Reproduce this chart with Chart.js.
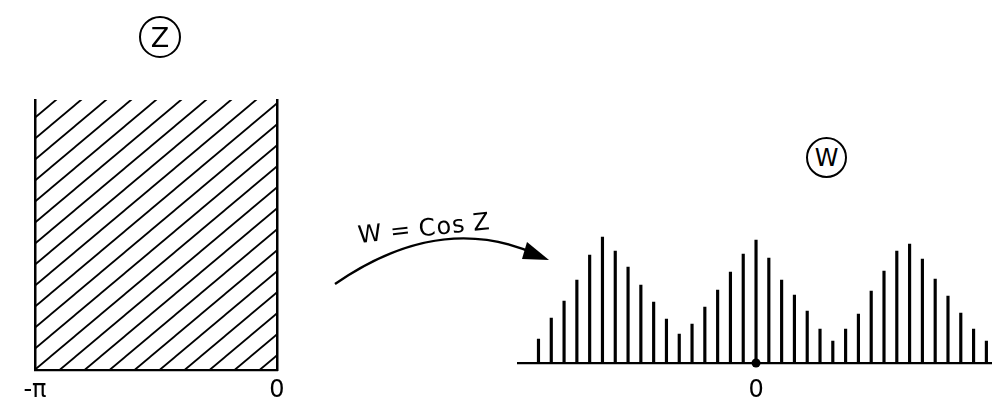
<!DOCTYPE html>
<html>
<head>
<meta charset="utf-8">
<script src="https://cdn.jsdelivr.net/npm/chart.js@4.4.1/dist/chart.umd.min.js"></script>
<style>
  html, body { margin: 0; padding: 0; background: #fff; }
  body { width: 996px; height: 406px; position: relative; overflow: hidden; font-family: "DejaVu Sans", sans-serif; }
  .wrap { position: absolute; }
  .circ { position: absolute; box-sizing: border-box; border: 2.5px solid #000; border-radius: 50%;
          display: flex; align-items: center; justify-content: center; color: #000; line-height: 1; }
  #mapText { position: absolute; left: 358px; top: 223px; font-size: 24px; letter-spacing: 1px; word-spacing: -1px;
             transform: rotate(-6deg); transform-origin: left center; white-space: nowrap; color: #000; line-height: 24px; }
  svg { position: absolute; left: 0; top: 0; }
</style>
</head>
<body>
<script>
// ---- data ----
// z-plane: the strip -π < Re z < 0 (hatched region)
const zRegionX = [-Math.PI, 0];
const zTickValues = [-Math.PI, 0];
const zTickLabels = ["-π", "0"];

// w-plane: vertical spikes along the real axis (index relative to w = 0)
const wIndex = [-17,-16,-15,-14,-13,-12,-11,-10,-9,-8,-7,-6,-5,-4,-3,-2,-1,0,
                 1,2,3,4,5,6,7,8,9,10,11,12,13,14,15,16,17,18];
const wHeights = [24,45,62,83,108,126,112,96,78,61,44,29,39,56,73,91,109,123,
                  105,83,68,52,34,22,34,49,72,92,112,119,104,84,67,50,34,22];
const wTickValues = [0];
const wTickLabels = ["0"];
const wOrigin = [{x: 0, y: 0}];
</script>

<div class="wrap" style="left:0;top:0;width:330px;height:406px"><canvas id="zc"></canvas></div>
<div class="wrap" style="left:500px;top:200px;width:496px;height:206px"><canvas id="wc"></canvas></div>

<div class="circ" style="left:139px;top:16px;width:42px;height:42px;font-size:27px">Z</div>
<div class="circ" style="left:806px;top:137px;width:41px;height:41px;font-size:24px">W</div>

<svg width="996" height="406">
  <path d="M335,284 Q442,210 540,256" fill="none" stroke="#000" stroke-width="2.4"/>
  <polygon points="549,260 527,242 522,259" fill="#000"/>
</svg>
<div id="mapText">W = Cos Z</div>

<script>
function hatchPattern(ctx) {
  const c = document.createElement('canvas');
  c.width = 25; c.height = 21;
  const g = c.getContext('2d');
  g.strokeStyle = '#000';
  g.lineWidth = 1.8;
  for (const dx of [-25, 0, 25]) {
    g.beginPath();
    g.moveTo(-25 + dx, 42);
    g.lineTo(50 + dx, -21);
    g.stroke();
  }
  return ctx.createPattern(c, 'repeat');
}

const labelFont = { size: 24, family: 'DejaVu Sans' };

const zctx = document.getElementById('zc').getContext('2d');
new Chart(zctx, {
  type: 'line',
  data: {
    datasets: [{
      data: zRegionX.map(x => ({x, y: 1})),
      fill: 'origin',
      backgroundColor: hatchPattern(zctx),
      borderWidth: 0,
      pointRadius: 0
    }]
  },
  options: {
    responsive: true, maintainAspectRatio: false, animation: false,
    layout: { padding: { left: 35, right: 53, top: 100, bottom: 0 } },
    plugins: { legend: { display: false }, tooltip: { enabled: false } },
    scales: {
      x: {
        type: 'linear', min: -Math.PI, max: 0,
        grid: { display: false, drawTicks: false },
        border: { display: true, color: '#000', width: 2.2 },
        afterBuildTicks: s => { s.ticks = zTickValues.map(v => ({value: v})); },
        afterFit: s => { s.height = 36; },
        ticks: {
          padding: 6, color: '#000', font: labelFont,
          maxRotation: 0, autoSkip: false,
          callback: (v) => zTickLabels[zTickValues.indexOf(v)]
        }
      },
      y: {
        min: 0, max: 1, position: 'left',
        grid: { display: false, drawTicks: false },
        ticks: { display: false },
        border: { display: true, color: '#000', width: 2.5 },
        afterFit: s => { s.width = 0; }
      },
      y2: {
        min: 0, max: 1, position: 'right',
        grid: { display: false, drawTicks: false },
        ticks: { display: false },
        border: { display: true, color: '#000', width: 2.5 },
        afterFit: s => { s.width = 0; }
      }
    }
  }
});

new Chart(document.getElementById('wc'), {
  type: 'bar',
  data: {
    datasets: [
      {
        type: 'scatter',
        data: wOrigin,
        pointRadius: 4.5,
        backgroundColor: '#000',
        borderWidth: 0,
        clip: false,
        order: 0
      },
      {
        data: wIndex.map((x, i) => ({x, y: wHeights[i]})),
        backgroundColor: '#000',
        barThickness: 2.5,
        order: 1
      }
    ]
  },
  options: {
    responsive: true, maintainAspectRatio: false, animation: false,
    layout: { padding: { left: 18, right: 0, top: 30, bottom: 0 } },
    plugins: { legend: { display: false }, tooltip: { enabled: false } },
    scales: {
      x: {
        type: 'linear', min: -18.6, max: 18.4, offset: false,
        grid: { display: false, drawTicks: false },
        border: { display: true, color: '#000', width: 2.2 },
        afterBuildTicks: s => { s.ticks = wTickValues.map(v => ({value: v})); },
        afterFit: s => { s.height = 43; },
        ticks: {
          padding: 13, color: '#000', font: labelFont,
          maxRotation: 0, autoSkip: false,
          callback: (v) => wTickLabels[wTickValues.indexOf(v)]
        }
      },
      y: {
        min: 0, max: 133, display: false
      }
    }
  }
});
</script>
</body>
</html>
